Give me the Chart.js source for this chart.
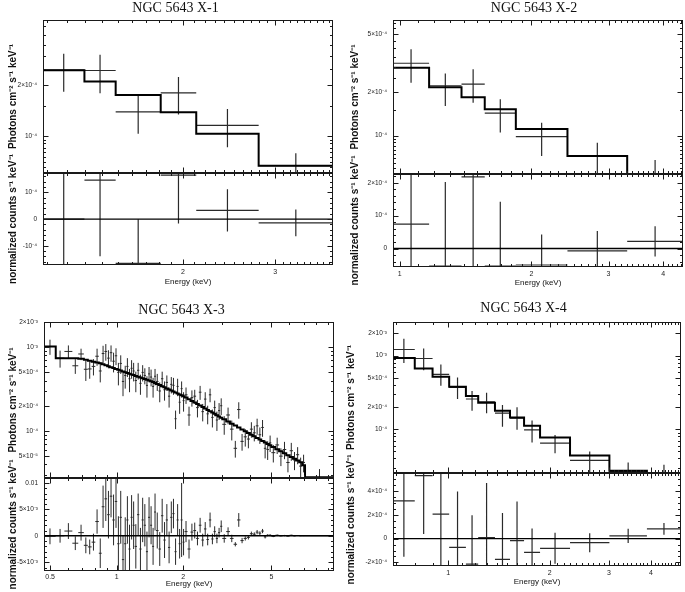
<!DOCTYPE html>
<html>
<head>
<meta charset="utf-8">
<script src="https://cdn.jsdelivr.net/npm/chart.js@4.4.1/dist/chart.umd.min.js"></script>
<style>
  body { margin: 0; background: #fff; width: 685px; height: 592px; position: relative; overflow: hidden; }
  canvas { position: absolute; }
</style>
</head>
<body>
<script>
// flux in units of 1e-4 photons cm^-2 s^-1 keV^-1, residuals in 1e-4 counts s^-1 keV^-1
// (X-3 residuals in 1e-3)

// ---- NGC 5643 X-1
const x1Edges = [1.08, 1.296, 1.487, 1.813, 2.12, 2.79, 3.87];
const x1Flux = [2.46, 2.45, 1.39, 1.80, 1.154, 0.663];
const x1FluxLo = [1.83, 1.79, 1.03, 1.34, 0.854, 0.55];
const x1FluxHi = [3.08, 3.04, 1.73, 2.24, 1.446, 0.787];
const x1Model = [2.46, 2.11, 1.75, 1.38, 1.03, 0.663];
const x1Res = [0.0, 1.46, -1.66, 1.65, 0.33, -0.14];
const x1ResErr = [2.5, 2.85, 1.66, 1.81, 0.79, 0.5];

// ---- NGC 5643 X-2
const x2Edges = [0.965, 1.167, 1.384, 1.564, 1.842, 2.417, 3.31, 4.44];
const x2Flux = [3.16, 2.21, 2.27, 1.43, 0.984, 0.725, 0.35];
const x2FluxLo = [2.32, 1.60, 1.69, 1.05, 0.725, 0.50, 0.20];
const x2FluxHi = [3.94, 2.69, 2.87, 1.78, 1.23, 0.895, 0.68];
const x2Model = [2.94, 2.16, 1.84, 1.52, 1.11, 0.725, 0.45];
const x2Res = [0.74, -0.53, 2.18, -0.53, -0.50, -0.07, 0.22];
const x2ResErr = [2.6, 2.55, 2.8, 1.95, 0.93, 0.6, 0.46];

// ---- NGC 5643 X-3
const x3Edges = [0.47, 0.53, 0.58, 0.63, 0.67, 0.71, 0.74, 0.77, 0.80, 0.83,
  0.855, 0.88, 0.905, 0.93, 0.955, 0.98, 1.005, 1.03, 1.055, 1.08, 1.105, 1.13, 1.155, 1.18, 1.205,
  1.235, 1.265, 1.295, 1.325, 1.355, 1.385, 1.415, 1.445, 1.475, 1.505,
  1.545, 1.585, 1.625, 1.665, 1.705, 1.745, 1.785, 1.825, 1.865, 1.905, 1.945, 1.985, 2.025,
  2.09, 2.155, 2.22, 2.285, 2.35, 2.415, 2.48, 2.545, 2.61, 2.675, 2.74, 2.805, 2.87, 2.935, 3.0,
  3.125, 3.25, 3.375, 3.5, 3.625, 3.75, 3.875, 4.0, 4.125, 4.25, 4.375, 4.5, 4.625, 4.75, 4.875, 5.0,
  5.21, 5.42, 5.63, 5.84, 6.05, 6.26, 6.47, 6.68, 6.89, 7.1, 9.6];
const x3Flux = [10.2, 7.4, 8.9, 6.0, 8.3, 5.45, 5.5, 5.9, 7.8,
  5.2, 8.4, 8.9, 7.4, 8.6, 6.8, 7.9, 5.0, 6.4, 3.9, 4.6, 5.9, 4.2, 5.6, 5.2,
  4.0, 5.3, 3.7, 5.0, 4.6, 3.5, 4.8, 4.4, 3.4, 4.5,
  3.9, 3.0, 4.2, 3.1, 3.8, 2.6, 3.6, 3.5, 1.4, 3.4, 2.2, 3.2, 2.3,
  2.7, 1.55, 2.5, 2.6, 1.9, 2.9, 1.7, 2.4, 1.6, 2.7, 1.45, 1.9, 1.35, 1.75, 2.0,
  1.2, 1.55, 1.05, 0.62, 1.8, 0.75, 0.85, 0.8, 1.05, 0.95, 1.15, 0.9, 1.1, 0.62, 0.6, 0.72,
  0.55, 0.68, 0.5, 0.6, 0.42, 0.58, 0.45, 0.52, 0.38, 0.42, 0.26];
const x3FluxErr = [2.1, 1.7, 1.6, 1.2, 1.3, 1.5, 1.3, 1.3, 1.8,
  1.4, 2.0, 2.0, 1.8, 1.9, 1.8, 1.8, 1.5, 1.6, 1.3, 1.4, 1.5, 1.3, 1.4, 1.3,
  1.1, 1.2, 1.0, 1.1, 1.0, 1.0, 1.0, 1.0, 0.9, 1.0,
  0.9, 0.8, 0.9, 0.8, 0.8, 0.7, 0.8, 0.8, 0.35, 0.8, 0.6, 0.7, 0.6,
  0.6, 0.4, 0.55, 0.5, 0.45, 0.55, 0.4, 0.5, 0.4, 0.5, 0.35, 0.4, 0.35, 0.4, 0.45,
  0.3, 0.35, 0.28, 0.14, 0.4, 0.17, 0.2, 0.18, 0.22, 0.2, 0.25, 0.2, 0.25, 0.15, 0.15, 0.16,
  0.13, 0.15, 0.12, 0.14, 0.1, 0.14, 0.11, 0.12, 0.1, 0.1, 0.09];
const x3Model = [10.2, 7.4, 7.4, 7.4, 7.3, 7.1, 6.9, 6.7, 6.55,
  6.43, 6.26, 6.09, 5.93, 5.78, 5.63, 5.50, 5.38, 5.26, 5.14, 5.03, 4.93, 4.83, 4.73, 4.64,
  4.54, 4.44, 4.34, 4.25, 4.16, 4.08, 4.00, 3.92, 3.84, 3.74,
  3.64, 3.53, 3.42, 3.32, 3.22, 3.13, 3.04, 2.96, 2.88, 2.80, 2.73, 2.66, 2.60,
  2.50, 2.39, 2.28, 2.18, 2.09, 2.01, 1.93, 1.85, 1.78, 1.72, 1.66, 1.60, 1.54, 1.49, 1.44,
  1.38, 1.30, 1.22, 1.16, 1.10, 1.04, 0.99, 0.945, 0.90, 0.862, 0.825, 0.79, 0.757, 0.727, 0.70, 0.673,
  0.641, 0.603, 0.57, 0.54, 0.513, 0.488, 0.464, 0.443, 0.423, 0.39, 0.28];
const x3Res = [-0.1, 0.0, 0.9, -1.4, 0.6, -1.8, -2.1, -1.2, 2.7,
  -3.3, 5.5, 7.0, 4.0, 7.5, 3.0, 6.5, -1.5, 3.5, -4.5, -1.5, 3.0, -2.5, 3.5, 2.0,
  -2.0, 4.0, -2.5, 3.0, 2.0, -3.0, 3.5, 2.0, -2.0, 4.5,
  1.0, -2.5, 3.8, -0.8, 3.0, -2.2, 3.5, 4.2, -3.0, 3.0, -1.5, 3.0, -1.2,
  0.8, -2.5, 0.7, 1.0, -0.5, 2.0, -0.8, 1.3, -0.7, 3.0, -0.6, 0.8, -0.5, 0.6, 1.8,
  -0.5, 0.8, -0.5, -1.6, 3.0, -0.9, -0.5, -0.3, 0.4, 0.3, 0.7, 0.5, 0.9, -0.2, 0.1, 0.1,
  -0.1, 0.1, 0.0, 0.05, -0.05, 0.1, 0.0, 0.05, 0.0, 0.0, 0.0];
const x3ResErr = [1.5, 1.3, 1.5, 1.3, 1.5, 1.5, 1.4, 1.6, 2.3,
  2.8, 4.0, 4.2, 4.5, 4.0, 4.8, 5.0, 5.2, 5.0, 4.5, 5.0, 4.5, 4.6, 4.2, 4.5,
  4.2, 4.0, 4.0, 4.2, 4.0, 3.8, 3.8, 3.6, 3.5, 3.5,
  3.4, 3.2, 3.2, 3.4, 3.0, 3.0, 3.0, 2.8, 2.5, 3.0, 2.8, 7.0, 2.5,
  2.0, 1.8, 1.6, 1.5, 1.3, 1.4, 1.2, 1.3, 1.1, 1.4, 1.0, 1.0, 0.9, 0.9, 1.1,
  0.8, 0.8, 0.7, 0.4, 1.3, 0.5, 0.4, 0.4, 0.4, 0.35, 0.4, 0.35, 0.4, 0.3, 0.2, 0.2,
  0.15, 0.15, 0.12, 0.12, 0.1, 0.1, 0.08, 0.08, 0.06, 0.05, 0.03];

// ---- NGC 5643 X-4
const x4Edges = [0.686, 0.796, 0.899, 1.007, 1.129, 1.228, 1.377, 1.526, 1.68, 1.874, 2.30, 3.01, 3.89, 4.91];
const x4Flux = [12.1, 9.13, 5.55, 3.70, 2.57, 2.36, 1.65, 1.41, 0.98, 0.647, 0.376, 0.267, 0.22];
const x4FluxLo = [7.96, 6.34, 3.89, 2.57, 1.78, 1.65, 1.08, 0.98, 0.66, 0.473, 0.25, 0.18, 0.12];
const x4FluxHi = [17.0, 12.5, 7.58, 5.05, 3.30, 3.13, 2.13, 1.98, 1.31, 0.837, 0.498, 0.353, 0.329];
const x4Model = [9.3, 6.69, 5.15, 3.77, 2.82, 2.29, 1.78, 1.44, 1.11, 0.77, 0.44, 0.273, 0.18];
const x4Res = [3.18, 5.3, 2.06, -0.73, -2.14, 0.08, -1.74, -0.17, -1.15, -0.81, -0.34, 0.23, 0.82];
const x4ResErr = [4.7, 4.9, 4.8, 4.7, 4.1, 4.6, 3.9, 3.3, 2.0, 1.3, 0.8, 0.6, 0.5];

// ---- axis ticks
const x1Ticks = [2, 3];
const x2Ticks = [1, 2, 3, 4];
const x3Ticks = [0.5, 1, 2, 5];
const x4Ticks = [1, 2, 3, 4];
const y1Ticks = [2, 1];            const y1Labels = ['2×10⁻⁴', '10⁻⁴'];
const r1Ticks = [1, 0, -1];        const r1Labels = ['10⁻⁴', '0', '-10⁻⁴'];
const y2Ticks = [5, 2, 1];         const y2Labels = ['5×10⁻⁴', '2×10⁻⁴', '10⁻⁴'];
const r2Ticks = [2, 1, 0];         const r2Labels = ['2×10⁻⁴', '10⁻⁴', '0'];
const y3Ticks = [20, 10, 5, 2, 1, 0.5];
const y3Labels = ['2×10⁻³', '10⁻³', '5×10⁻⁴', '2×10⁻⁴', '10⁻⁴', '5×10⁻⁵'];
const r3Ticks = [10, 5, 0, -5];    const r3Labels = ['0.01', '5×10⁻³', '0', '-5×10⁻³'];
const y4Ticks = [20, 10, 5, 2, 1]; const y4Labels = ['2×10⁻³', '10⁻³', '5×10⁻⁴', '2×10⁻⁴', '10⁻⁴'];
const r4Ticks = [4, 2, 0, -2];     const r4Labels = ['4×10⁻⁴', '2×10⁻⁴', '0', '-2×10⁻⁴'];

Chart.defaults.font.family = "'Liberation Sans', Arial, sans-serif";
Chart.defaults.color = '#222';

// frame box with small inward ticks, like the plotting package draws
const frameTicks = {
  id: 'frameTicks',
  afterDatasetsDraw(chart, args, o) {
    if (!o || !o.xMajor) return;
    const {ctx, chartArea: a} = chart;
    const sx = chart.scales.x, sy = chart.scales.y;
    const l = Math.round(a.left) + 0.5, r = Math.round(a.right) - 0.5;
    const t = Math.round(a.top) + 0.5, b = Math.round(a.bottom) - 0.5;
    ctx.save();
    ctx.strokeStyle = '#1a1a1a';
    ctx.lineWidth = 1;
    ctx.beginPath();
    const seg = (x1, y1, x2, y2) => { ctx.moveTo(x1, y1); ctx.lineTo(x2, y2); };
    const xt = (vals, len) => vals.forEach(v => {
      const px = Math.round(sx.getPixelForValue(v)) + 0.5;
      if (px > l && px < r) { seg(px, b, px, b - len); seg(px, t, px, t + len); }
    });
    const yt = (vals, len) => vals.forEach(v => {
      const py = Math.round(sy.getPixelForValue(v)) + 0.5;
      if (py > t && py < b) { seg(l, py, l + len, py); seg(r, py, r - len, py); }
    });
    xt(o.xMajor, 5); xt(o.xMinor, 2.5);
    yt(o.yMajor, 5); yt(o.yMinor, 2.5);
    ctx.stroke();
    ctx.strokeRect(l, t, r - l, b - t);
    ctx.restore();
  }
};
Chart.register(frameTicks);

function logMinors(min, max, fine) {
  const out = [];
  for (let d = 0.01; d < 1000; d *= 10) {
    for (let m = 1; m < 10; m += fine ? 0.5 : 1) {
      const v = m * d;
      if (v > min && v < max) out.push(v);
    }
  }
  return out;
}
function stepMinors(min, max, step) {
  const out = [];
  for (let k = Math.ceil(min / step); k * step < max; k++) out.push(k * step);
  return out;
}

function makeCanvas(left, top, w, h) {
  const c = document.createElement('canvas');
  c.width = w; c.height = h;
  c.style.left = left + 'px'; c.style.top = top + 'px';
  c.style.width = w + 'px'; c.style.height = h + 'px';
  document.body.appendChild(c);
  return c;
}
const fixedSize = size => s => { if (s.isHorizontal()) s.height = size; else s.width = size; };
const setTicks = vals => s => { s.ticks = vals.map(v => ({value: v})); };

// histogram model line
function steps(edges, vals) {
  const pts = [];
  vals.forEach((v, i) => { pts.push({x: edges[i], y: v}, {x: edges[i + 1], y: v}); });
  return pts;
}
// data crosses: bin width + error bar at bin centre
function crosses(edges, vals, lo, hi) {
  const pts = [];
  vals.forEach((v, i) => {
    const c = Math.sqrt(edges[i] * edges[i + 1]);
    pts.push({x: edges[i], y: v}, {x: edges[i + 1], y: v}, {x: c, y: null},
             {x: c, y: lo[i]}, {x: c, y: hi[i]}, {x: c, y: null});
  });
  return pts;
}

const common = {
  responsive: false,
  animation: false,
  events: [],
  elements: {point: {radius: 0}, line: {tension: 0, borderCapStyle: 'butt'}},
};
const hidden = {grid: {display: false, drawTicks: false}, border: {display: false}};

function panel(p) {
  const lh = 14 * 1.2;
  const xMinor = p.xFine ? stepMinors(p.xMin, p.xMax, 0.1) : logMinors(p.xMin, p.xMax, false);

  // spectrum
  const W = Math.round(2 * (p.titleX - p.x0));
  const rw = p.x0 + W - p.R;
  new Chart(makeCanvas(p.x0, p.y0, W, p.D + 12 - p.y0), {
    type: 'line',
    data: {datasets: [
      {data: steps(p.edges, p.model), borderColor: '#000', borderWidth: 2},
      {data: crosses(p.edges, p.flux, p.fluxLo.map(v => Math.max(v, p.yMin / 2)), p.fluxHi),
       borderColor: '#2a2a2a', borderWidth: p.crossW},
    ]},
    options: {
      ...common,
      layout: {padding: {top: 0, bottom: 12, left: 0, right: 0}},
      plugins: {
        legend: {display: false}, tooltip: {enabled: false},
        title: {display: true, text: p.title, color: '#111',
          font: {family: "'Liberation Serif', 'Times New Roman', serif", size: 14, weight: 'normal'},
          padding: {top: p.titleY - p.y0 - lh / 2, bottom: p.T - p.titleY - lh / 2}},
        frameTicks: {xMajor: p.xTicks, xMinor, yMajor: p.yTicks, yMinor: logMinors(p.yMin, p.yMax, p.yFine)},
      },
      scales: {
        x: {type: 'logarithmic', display: false, min: p.xMin, max: p.xMax},
        y: {type: 'logarithmic', position: 'left', min: p.yMin, max: p.yMax, ...hidden,
          afterFit: fixedSize(p.L - p.x0), afterBuildTicks: setTicks(p.yTicks),
          ticks: {callback: (v, i) => p.yLabels[i], font: {size: 6.5}, padding: 6, autoSkip: false},
          title: {display: true, text: 'Photons cm⁻² s⁻¹ keV⁻¹', color: '#111',
            font: {size: 10, weight: 'bold'}, padding: {top: p.yTitleX - p.x0 - 6, bottom: 0}}},
        r: {type: 'linear', position: 'right', ...hidden, afterFit: fixedSize(rw), ticks: {display: false}},
      },
    },
  });

  // residuals
  const y0 = p.D - 25;
  new Chart(makeCanvas(p.x0, y0, p.R - p.x0 + 3, p.B + 26 - y0), {
    type: 'line',
    data: {datasets: [
      {data: [{x: p.xMin, y: 0}, {x: p.xMax, y: 0}], borderColor: '#000', borderWidth: 1.4},
      {data: crosses(p.edges, p.res, p.res.map((v, i) => v - p.resErr[i]), p.res.map((v, i) => v + p.resErr[i])),
       borderColor: '#2a2a2a', borderWidth: p.crossW},
    ]},
    options: {
      ...common,
      layout: {padding: {top: 25, bottom: 0, left: 0, right: 3}},
      plugins: {
        legend: {display: false}, tooltip: {enabled: false},
        frameTicks: {xMajor: p.xTicks, xMinor, yMajor: p.rTicks, yMinor: stepMinors(p.rMin, p.rMax, p.rStep)},
      },
      scales: {
        x: {type: 'logarithmic', position: 'bottom', min: p.xMin, max: p.xMax, ...hidden,
          afterFit: fixedSize(26), afterBuildTicks: setTicks(p.xTicks),
          ticks: {callback: v => String(v), font: {size: 7}, padding: p.xLabelGap, autoSkip: false, maxRotation: 0},
          title: {display: true, text: 'Energy (keV)', color: '#111', font: {size: 8},
            padding: {top: 0, bottom: 26 - p.xTitleGap - 4.8}}},
        y: {type: 'linear', position: 'left', min: p.rMin, max: p.rMax, ...hidden,
          afterFit: fixedSize(p.L - p.x0), afterBuildTicks: setTicks(p.rTicks),
          ticks: {callback: (v, i) => p.rLabels[i], font: {size: 6.5}, padding: 6, autoSkip: false},
          title: {display: true, text: 'normalized counts s⁻¹ keV⁻¹', color: '#111',
            font: {size: 10, weight: 'bold'}, padding: {top: p.yTitleX - p.x0 - 6, bottom: 0}}},
      },
    },
  });
}

panel({title: 'NGC 5643 X-1', x0: 0, y0: 0, L: 43, R: 333, T: 20, D: 173, B: 265,
  titleX: 175.6, titleY: 8.5, yTitleX: 13, crossW: 1.2, xLabelGap: 3, xTitleGap: 17,
  edges: x1Edges, flux: x1Flux, fluxLo: x1FluxLo, fluxHi: x1FluxHi, model: x1Model,
  res: x1Res, resErr: x1ResErr,
  xMin: 1.08, xMax: 3.87, xTicks: x1Ticks, xFine: true,
  yMin: 0.62, yMax: 4.9, yTicks: y1Ticks, yLabels: y1Labels, yFine: true,
  rMin: -1.72, rMax: 1.73, rTicks: r1Ticks, rLabels: r1Labels, rStep: 0.2});

panel({title: 'NGC 5643 X-2', x0: 340, y0: 0, L: 393, R: 683, T: 20, D: 174, B: 267,
  titleX: 534, titleY: 8.4, yTitleX: 355, crossW: 1.2, xLabelGap: 3, xTitleGap: 16,
  edges: x2Edges, flux: x2Flux, fluxLo: x2FluxLo, fluxHi: x2FluxHi, model: x2Model,
  res: x2Res, resErr: x2ResErr,
  xMin: 0.965, xMax: 4.44, xTicks: x2Ticks, xFine: true,
  yMin: 0.544, yMax: 6.28, yTicks: y2Ticks, yLabels: y2Labels, yFine: true,
  rMin: -0.56, rMax: 2.265, rTicks: r2Ticks, rLabels: r2Labels, rStep: 0.2});

panel({title: 'NGC 5643 X-3', x0: 0, y0: 290, L: 44, R: 334, T: 322, D: 478, B: 571,
  titleX: 181.7, titleY: 310.5, yTitleX: 13, crossW: 1, xLabelGap: 2, xTitleGap: 13,
  edges: x3Edges, flux: x3Flux, fluxLo: x3Flux.map((v, i) => v - x3FluxErr[i]),
  fluxHi: x3Flux.map((v, i) => v + x3FluxErr[i]), model: x3Model,
  res: x3Res, resErr: x3ResErr,
  xMin: 0.469, xMax: 9.6, xTicks: x3Ticks, xFine: false,
  yMin: 0.274, yMax: 20, yTicks: y3Ticks, yLabels: y3Labels, yFine: false,
  rMin: -6.66, rMax: 10.94, rTicks: r3Ticks, rLabels: r3Labels, rStep: 1});

panel({title: 'NGC 5643 X-4', x0: 340, y0: 290, L: 393, R: 681, T: 322, D: 473, B: 566,
  titleX: 523.3, titleY: 308.3, yTitleX: 351, crossW: 1.2, xLabelGap: 3, xTitleGap: 16,
  edges: x4Edges, flux: x4Flux, fluxLo: x4FluxLo, fluxHi: x4FluxHi, model: x4Model,
  res: x4Res, resErr: x4ResErr,
  xMin: 0.686, xMax: 4.91, xTicks: x4Ticks, xFine: true,
  yMin: 0.254, yMax: 28.6, yTicks: y4Ticks, yLabels: y4Labels, yFine: false,
  rMin: -2.3, rMax: 5.52, rTicks: r4Ticks, rLabels: r4Labels, rStep: 0.5});
</script>
</body>
</html>
